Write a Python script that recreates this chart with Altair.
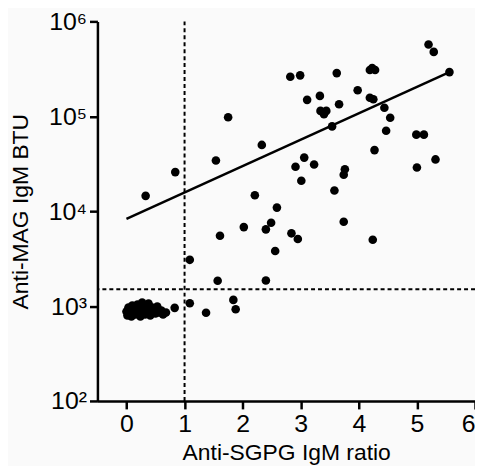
import altair as alt
import pandas as pd

# Scatter points: Anti-SGPG IgM ratio (x) vs Anti-MAG IgM BTU (y)
cluster_x = [0.0, 0.017, 0.034, 0.05, 0.07, 0.085, 0.10, 0.12, 0.15, 0.17, 0.19, 0.22,
             0.24, 0.26, 0.27, 0.31, 0.32, 0.34, 0.38, 0.39, 0.41, 0.44, 0.48, 0.50,
             0.53, 0.56, 0.60, 0.63, 0.68]
cluster_y = [876, 795, 964, 834, 919, 776, 1012, 876, 815, 942, 1037, 855,
             776, 964, 1088, 897, 815, 1012, 1062, 876, 795, 964, 919, 834,
             988, 855, 897, 815, 855]

other_x = [0.83, 1.09, 1.37, 1.84, 1.88, 1.57, 2.40, 1.09, 1.61, 2.56, 2.02, 2.49,
           2.40, 2.84, 2.95, 3.74, 4.24, 2.59, 2.21, 0.33, 3.58, 3.01, 2.91, 3.23,
           3.06, 3.76, 3.74, 5.00, 5.32, 4.27, 2.33, 1.54, 0.84, 1.75, 4.99, 5.12,
           4.47, 4.54, 4.44, 3.54, 3.34, 3.44, 3.40, 3.66, 3.11, 3.33, 3.98, 4.19,
           4.25, 2.82, 2.99, 3.62, 4.19, 4.28, 4.23, 5.56, 5.20, 5.29]
other_y = [957, 1069, 849, 1161, 925, 1850, 1858, 3070, 5510, 3810, 6790, 7540,
           6430, 5840, 5090, 7730, 5000, 10900, 14700, 14500, 16500, 20900, 29400, 31000,
           36700, 27700, 24200, 28900, 35100, 44000, 49900, 34200, 25800, 97700, 64000, 64000,
           70400, 96400, 123000, 78200, 114000, 114000, 105000, 134000, 149000, 164000, 188000, 157000,
           151000, 261000, 270000, 285000, 307000, 307000, 322000, 292000, 570000, 477000]

# Regression line end points
fit_x = [0.0, 5.56]
fit_y = [8300, 292000]

# Cut-off lines
cut_x = [1.0]
cut_y = [1500]

x_ticks = [0, 1, 2, 3, 4, 5, 6]
y_ticks = [100, 1000, 10000, 100000, 1000000]

pts = pd.DataFrame({"x": cluster_x + other_x, "y": cluster_y + other_y})
fit = pd.DataFrame({"x": fit_x, "y": fit_y})
vline = pd.DataFrame({"x": cut_x})
hline = pd.DataFrame({"y": cut_y})

FONT = "Liberation Sans"

xscale = alt.Scale(domain=[-0.5, 6], nice=False, zero=False)
yscale = alt.Scale(type="log", domain=[100, 1000000], nice=False)

xaxis = alt.Axis(values=x_ticks, format="d", title="Anti-SGPG IgM ratio", grid=False,
                 domainColor="black", domainWidth=2.5, tickColor="black",
                 tickWidth=2.5, tickSize=8, labelFont=FONT, labelFontSize=25,
                 labelColor="black", labelPadding=3, titleFont=FONT,
                 titleFontSize=23, titleFontWeight="normal", titleColor="black",
                 titlePadding=5)
yaxis = alt.Axis(values=y_ticks, title="Anti-MAG IgM BTU", grid=False,
                 domainColor="black", domainWidth=2.5, tickColor="black",
                 tickWidth=2.5, tickSize=8, labelFont=FONT, labelFontSize=25,
                 labelColor="black", labelPadding=3,
                 labelExpr="'10' + ['⁰','¹','²','³','⁴','⁵','⁶'][round(log(datum.value)/LN10)]",
                 titleFont=FONT, titleFontSize=23, titleFontWeight="normal",
                 titleColor="black", titlePadding=16)

points = alt.Chart(pts).mark_circle(size=75, color="black", opacity=1).encode(
    x=alt.X("x:Q", scale=xscale, axis=xaxis),
    y=alt.Y("y:Q", scale=yscale, axis=yaxis),
)

line = alt.Chart(fit).mark_line(color="black", strokeWidth=2.5).encode(
    x=alt.X("x:Q", scale=xscale),
    y=alt.Y("y:Q", scale=yscale),
)

vrule = alt.Chart(vline).mark_rule(color="black", strokeWidth=2, strokeDash=[4, 3]).encode(
    x=alt.X("x:Q", scale=xscale),
)
hrule = alt.Chart(hline).mark_rule(color="black", strokeWidth=2, strokeDash=[4, 3]).encode(
    y=alt.Y("y:Q", scale=yscale),
)

chart = alt.layer(vrule, hrule, line, points).properties(
    width=380, height=382,
    autosize=alt.AutoSizeParams(type="none"),
    padding={"left": 90, "top": 12, "right": 0, "bottom": 64},
    background="#fafafa",
).configure_view(stroke=None)

chart.save("out.html", embed_options={"renderer": "svg", "actions": False})
